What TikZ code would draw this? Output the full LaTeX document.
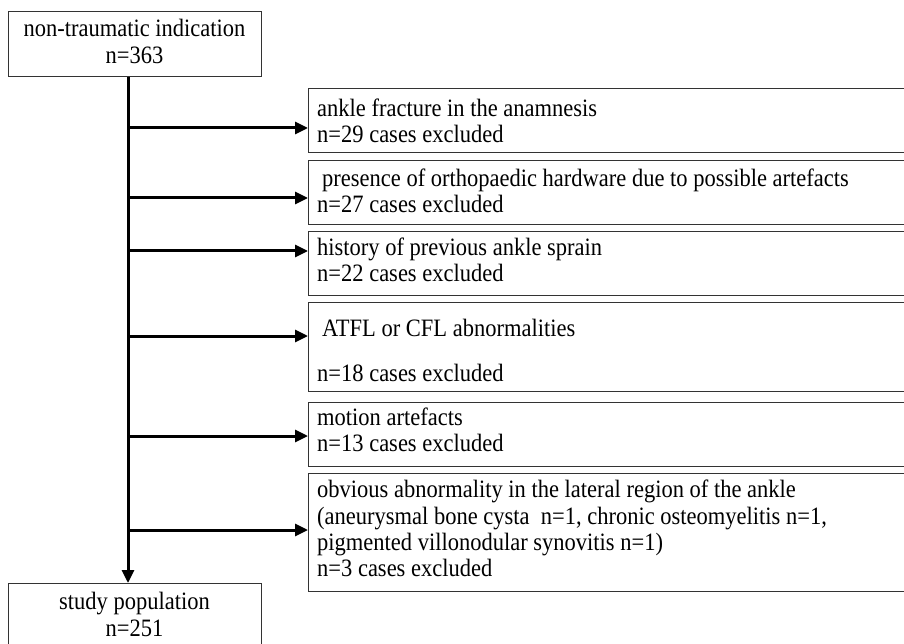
\documentclass[tikz,border=0pt]{standalone}
\usepackage{fontspec}
\setmainfont[FakeStretch=0.9]{Liberation Serif}
\usetikzlibrary{arrows.meta}
\begin{document}
\begin{tikzpicture}[x=1pt,y=-1pt,
  box/.style={draw=black!80, line width=1.4pt, inner sep=0pt, anchor=north west},
  txt/.style={anchor=base west, inner sep=0pt, font=\fontsize{25}{26}\selectfont},
  ctxt/.style={anchor=base, inner sep=0pt, font=\fontsize{25}{26}\selectfont},
  arr/.style={line width=3pt, -{Triangle[length=13pt,width=12pt]}}]
\useasboundingbox (0,0) rectangle (904,644);
% boxes
\node[box, minimum width=253, minimum height=70] (bot) at (8,583) {};
\node[box, minimum width=253, minimum height=65] (top) at (8,11) {};
\node[box, minimum width=598, minimum height=64] (b1) at (308,88) {};
\node[box, minimum width=598, minimum height=64] (b2) at (308,160) {};
\node[box, minimum width=598, minimum height=64] (b3) at (308,231) {};
\node[box, minimum width=598, minimum height=89] (b4) at (308,302) {};
\node[box, minimum width=598, minimum height=64] (b5) at (308,402) {};
\node[box, minimum width=598, minimum height=118] (b6) at (308,473) {};
% texts
\node[ctxt] (t0a) at (134.5,37) {non-traumatic indication};
\node[ctxt] (t0b) at (134.5,64) {n=363};
\node[ctxt] (t7a) at (134.5,609) {study population};
\node[ctxt] (t7b) at (134.5,636) {n=251};
\node[txt] (t1a) at (317,117) {ankle fracture in the anamnesis};
\node[txt] (t1b) at (317,143) {n=29 cases excluded};
\node[txt] (t2a) at (322,187) {presence of orthopaedic hardware due to possible artefacts};
\node[txt] (t2b) at (317,213) {n=27 cases excluded};
\node[txt] (t3a) at (317,255) {history of previous ankle sprain};
\node[txt] (t3b) at (317,281) {n=22 cases excluded};
\node[txt] (t4a) at (322,336) {ATFL or CFL abnormalities};
\node[txt] (t4b) at (317,381) {n=18 cases excluded};
\node[txt] (t5a) at (317,425) {motion artefacts};
\node[txt] (t5b) at (317,451) {n=13 cases excluded};
\node[txt] (t6a) at (317,497) {obvious abnormality in the lateral region of the ankle};
\node[txt] (t6b) at (317,524) {(aneurysmal bone cysta\ \ n=1, chronic osteomyelitis n=1,};
\node[txt] (t6c) at (317,550) {pigmented villonodular synovitis n=1)};
\node[txt] (t6d) at (317,576) {n=3 cases excluded};
% connectors
\coordinate (vx) at (128,0);
\draw[arr] (top.south -| vx) -- (bot.north -| vx);
\coordinate (j1) at (128,128);
\coordinate (j2) at (128,198);
\coordinate (j3) at (128,251);
\coordinate (j4) at (128,336);
\coordinate (j5) at (128,436);
\coordinate (j6) at (128,530);
\draw[arr] (j1) -- (j1 -| b1.west);
\draw[arr] (j2) -- (j2 -| b2.west);
\draw[arr] (j3) -- (j3 -| b3.west);
\draw[arr] (j4) -- (j4 -| b4.west);
\draw[arr] (j5) -- (j5 -| b5.west);
\draw[arr] (j6) -- (j6 -| b6.west);
\end{tikzpicture}
\end{document}
